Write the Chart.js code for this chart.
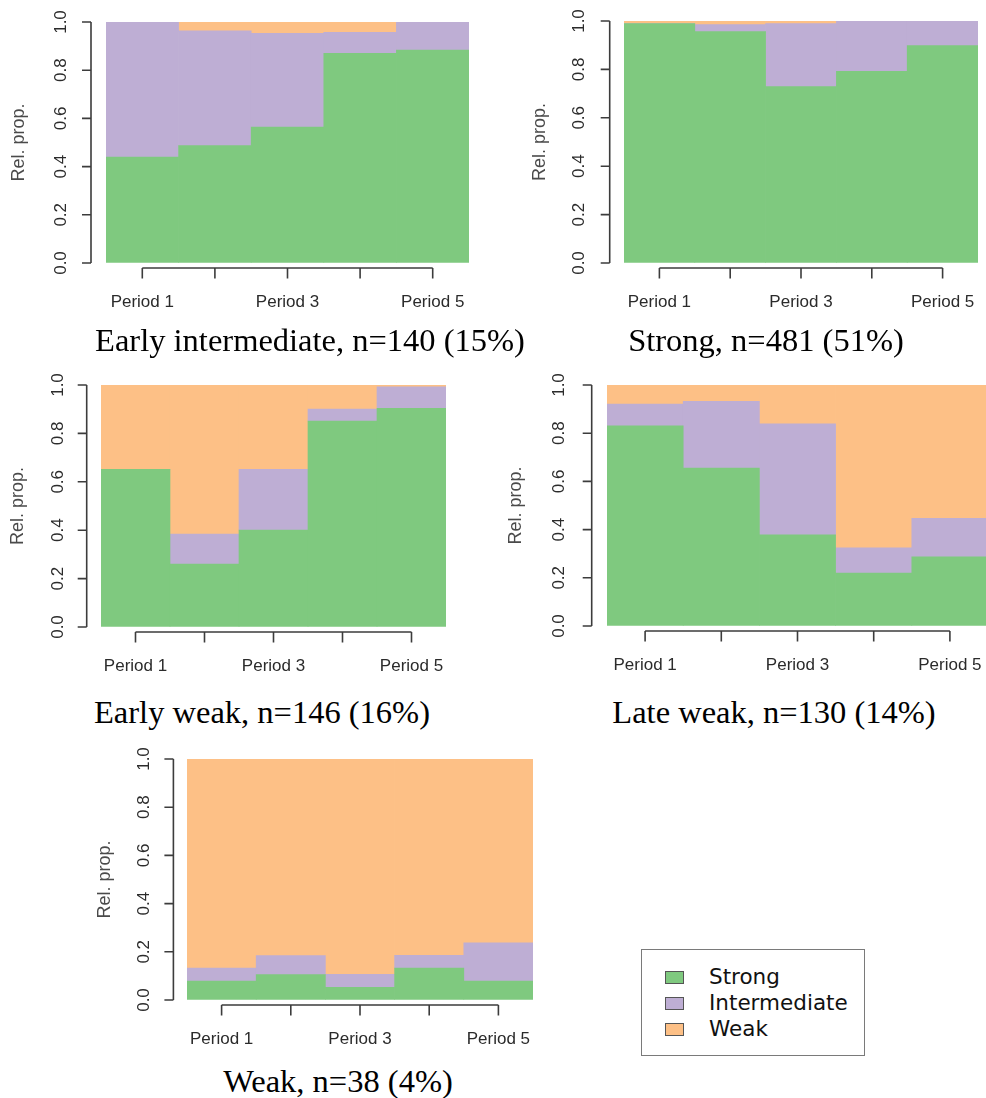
<!DOCTYPE html>
<html>
<head>
<meta charset="utf-8">
<script src="https://cdn.jsdelivr.net/npm/chart.js@4.4.1/dist/chart.umd.min.js"></script>
<style>
  html, body { margin: 0; padding: 0; background: #fff; }
  body { position: relative; width: 986px; height: 1098px; overflow: hidden; }
  canvas { position: absolute; }
  .ptitle {
    position: absolute; white-space: nowrap; transform: translate(-50%, -50%);
    font-family: "Liberation Serif", "Times New Roman", serif; font-size: 32.5px; line-height: 1; color: #000;
  }
  #legend { position: absolute; left: 641px; top: 949px; width: 222px; height: 105px; border: 1px solid #7a7a7a; }
  #legend .row { position: absolute; left: 0; height: 26px; }
  #legend .sw { position: absolute; left: 23px; top: 6px; width: 17px; height: 11px; border: 1px solid #555; }
  #legend .lab { position: absolute; left: 67px; top: 0; line-height: 24px; font-family: "DejaVu Sans", sans-serif; font-size: 21.5px; color: #111; }
</style>
</head>
<body>
<div id="legend"></div>
<script>
const periods = ['Period 1', 'Period 2', 'Period 3', 'Period 4', 'Period 5'];
const groups = ['Strong', 'Intermediate', 'Weak'];

// Early intermediate, n=140
const eiStrong = [0.44, 0.487, 0.564, 0.87, 0.884];
const eiInter  = [0.56, 0.476, 0.389, 0.087, 0.116];
const eiWeak   = [0, 0.037, 0.047, 0.043, 0];
// Strong, n=481
const stStrong = [0.989, 0.956, 0.729, 0.792, 0.898];
const stInter  = [0, 0.029, 0.26, 0.208, 0.102];
const stWeak   = [0.011, 0.015, 0.011, 0, 0];
// Early weak, n=146
const ewStrong = [0.652, 0.26, 0.40, 0.851, 0.904];
const ewInter  = [0, 0.124, 0.252, 0.05, 0.088];
const ewWeak   = [0.348, 0.616, 0.348, 0.099, 0.008];
// Late weak, n=130
const lwStrong = [0.831, 0.655, 0.378, 0.22, 0.287];
const lwInter  = [0.09, 0.277, 0.461, 0.104, 0.16];
const lwWeak   = [0.079, 0.068, 0.161, 0.676, 0.553];
// Weak, n=38
const wkStrong = [0.079, 0.105, 0.053, 0.132, 0.079];
const wkInter  = [0.053, 0.079, 0.053, 0.053, 0.158];
const wkWeak   = [0.868, 0.816, 0.894, 0.815, 0.763];

const titles = [
  'Early intermediate, n=140 (15%)',
  'Strong, n=481 (51%)',
  'Early weak, n=146 (16%)',
  'Late weak, n=130 (14%)',
  'Weak, n=38 (4%)'
];
const series = [
  [eiStrong, eiInter, eiWeak],
  [stStrong, stInter, stWeak],
  [ewStrong, ewInter, ewWeak],
  [lwStrong, lwInter, lwWeak],
  [wkStrong, wkInter, wkWeak]
];

const colors = ['#7fc97f', '#beaed4', '#fdc086'];
const sans = '"Liberation Sans", Arial, sans-serif';
const TICK_PX = 17, REL_PX = 18;

// plot area of each panel (page px) and label offsets
const layout = [
  { L: 106, R: 469, T: 22,  B: 263,  tick: 45,   rel: 86.5, gap: 15,   tx: 310, ty: 340 },
  { L: 624, R: 978, T: 21,  B: 263,  tick: 44.3, rel: 83.5, gap: 14.3, tx: 766, ty: 340 },
  { L: 101, R: 446, T: 385, B: 627,  tick: 42.7, rel: 82.7, gap: 14.3, tx: 262, ty: 712 },
  { L: 607, R: 988, T: 385, B: 626,  tick: 47.3, rel: 91,   gap: 15.3, tx: 774, ty: 712 },
  { L: 187, R: 533, T: 759, B: 1000, tick: 42.3, rel: 82,   gap: 13.6, tx: 338, ty: 1081 }
];

const YW = 105, XH = 60, PT = 14, PR = 2;

const mctx = document.createElement('canvas').getContext('2d');
mctx.font = TICK_PX + 'px ' + sans;
const tickW = mctx.measureText('0.0').width;

// R style axes: detached y axis line and x axis spanning the outer ticks
const rAxes = {
  id: 'rAxes',
  afterDraw(chart, args, opts) {
    const { ctx, chartArea, scales: { x, y } } = chart;
    ctx.save();
    ctx.strokeStyle = '#3c3c3c';
    ctx.lineWidth = 1.6;
    ctx.beginPath();
    const ax = chartArea.left - opts.gap;
    ctx.moveTo(ax, y.getPixelForValue(0));
    ctx.lineTo(ax, y.getPixelForValue(1));
    y.ticks.forEach(t => {
      const py = y.getPixelForValue(t.value);
      ctx.moveTo(ax - 9, py);
      ctx.lineTo(ax, py);
    });
    const ay = chartArea.bottom + 5;
    ctx.moveTo(x.getPixelForTick(0), ay);
    ctx.lineTo(x.getPixelForTick(x.ticks.length - 1), ay);
    x.ticks.forEach((t, i) => {
      const px = x.getPixelForTick(i);
      ctx.moveTo(px, ay);
      ctx.lineTo(px, ay + 10.5);
    });
    ctx.stroke();
    ctx.restore();
  }
};

function makePanel(idx) {
  const g = layout[idx];
  const cv = document.createElement('canvas');
  const w = g.R - g.L + YW + PR, h = g.B - g.T + PT + XH;
  cv.width = w; cv.height = h;
  cv.style.left = (g.L - YW) + 'px';
  cv.style.top = (g.T - PT) + 'px';
  cv.style.width = w + 'px'; cv.style.height = h + 'px';
  document.body.appendChild(cv);

  const t = document.createElement('div');
  t.className = 'ptitle';
  t.style.left = g.tx + 'px';
  t.style.top = g.ty + 'px';
  t.textContent = titles[idx];
  document.body.appendChild(t);

  new Chart(cv.getContext('2d'), {
    type: 'bar',
    data: {
      labels: periods,
      datasets: groups.map((name, k) => ({
        label: name,
        data: series[idx][k],
        backgroundColor: colors[k],
        borderWidth: 0,
        barPercentage: 1,
        categoryPercentage: 1
      }))
    },
    options: {
      responsive: false,
      animation: false,
      layout: { padding: { top: PT, right: PR, left: 0, bottom: 0 } },
      plugins: {
        legend: { display: false },
        tooltip: { enabled: false },
        rAxes: { gap: g.gap }
      },
      scales: {
        x: {
          stacked: true,
          afterFit: s => { s.height = XH; },
          border: { display: false },
          grid: { display: true, drawOnChartArea: false, drawTicks: true, tickLength: 39 - TICK_PX * 0.6, color: 'rgba(0,0,0,0)' },
          ticks: {
            padding: 0, autoSkip: false, maxRotation: 0, color: '#2b2b2b',
            font: { family: sans, size: TICK_PX },
            callback: (v, i) => (i % 2 === 0 ? periods[i] : '')
          }
        },
        y: {
          stacked: true, min: 0, max: 1,
          afterFit: s => { s.width = YW; },
          border: { display: false },
          grid: { display: true, drawOnChartArea: false, drawTicks: true, tickLength: g.tick - tickW / 2, color: 'rgba(0,0,0,0)' },
          ticks: {
            stepSize: 0.2, padding: 0, autoSkip: false, minRotation: 90, maxRotation: 90, crossAlign: 'center',
            color: '#2b2b2b', font: { family: sans, size: TICK_PX },
            callback: v => Number(v).toFixed(1)
          },
          title: {
            display: true, text: 'Rel. prop.', color: '#4a4a4a',
            font: { family: sans, size: REL_PX, lineHeight: 1 },
            padding: { top: YW - g.rel - REL_PX / 2, bottom: 0 }
          }
        }
      }
    },
    plugins: [rAxes]
  });
}

layout.forEach((g, i) => makePanel(i));

// legend box
const legend = document.getElementById('legend');
groups.forEach((name, k) => {
  const row = document.createElement('div');
  row.className = 'row';
  row.style.top = (15 + k * 26) + 'px';
  row.innerHTML = '<div class="sw" style="background:' + colors[k] + '"></div><div class="lab">' + name + '</div>';
  legend.appendChild(row);
});
</script>
</body>
</html>
